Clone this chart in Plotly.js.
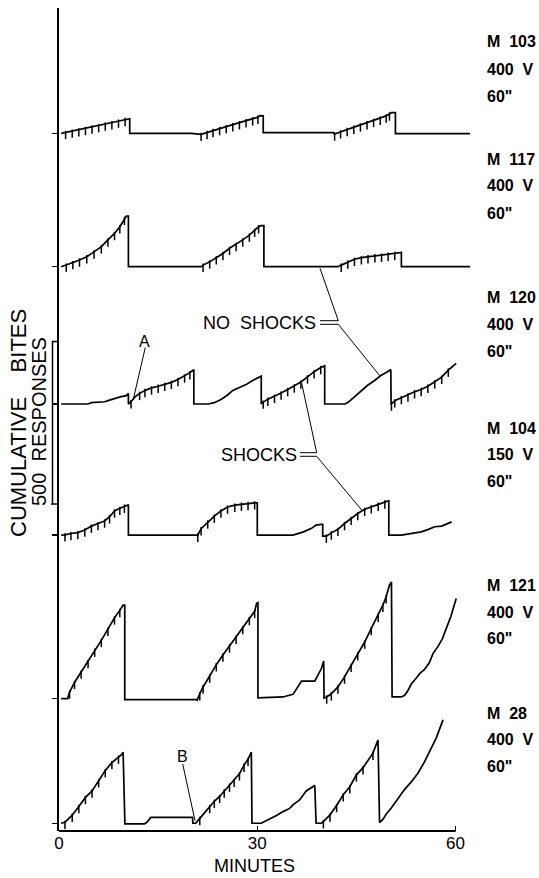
<!DOCTYPE html>
<html><head><meta charset="utf-8">
<script src="https://cdn.plot.ly/plotly-3.0.1.min.js"></script>
<style>html,body{margin:0;padding:0;background:#fff}</style>
</head><body><div id="chart" style="width:539px;height:878px"></div>
<script>
// ---------- DATA (minutes, cumulative responses above each record's baseline) ----------
const m103T = [0.33,1,2,3,4,5,6,7,8,9,10,10.2,10.7,10.7,20.0,21.5,22.4,23.3,24.3,25.3,26.3,27.3,28.3,29.3,30.1,30.4,30.9,30.9,41.5,41.7,42.6,43.6,44.6,45.6,46.6,47.6,48.6,49.5,50.0,50.3,50.9,50.9,62.2];
const m103R = [0,3,7,11,15,20,24,29,33,38,43,45,45,0,0,-3,3,9,15,21,27,33,39,45,50,55,54,2,2,-2,5,12,19,26,33,40,47,54,60,64,64,-1,-1];
const m103Pips = [1,2,3,4,5,6,7,8,9,10,21.5,22.4,23.3,24.3,25.3,26.3,27.3,28.3,29.3,30.1,41.7,42.6,43.6,44.6,45.6,46.6,47.6,48.6,49.5,50.0];

const m117T = [0.33,1.1,2.1,3.1,4.2,5.3,6.4,7.4,8.4,9.2,9.9,10.2,10.5,10.5,21.5,21.8,22.8,23.8,24.8,25.8,26.8,27.8,28.8,29.6,30.2,30.6,31.0,31.0,42.2,42.7,43.7,44.7,45.75,46.75,47.8,48.8,49.8,50.8,51.3,51.8,51.8,62.2];
const m117R = [0,5,13,21,31,46,62,83,103,124,150,157,157,0,0,5,15,28,41,57,69,83,98,113,124,127,127,0,0,5,15,23,28,31,34,36,39,41,43,44,0,0];
const m117Pips = [1.1,2.1,3.1,4.2,5.3,6.4,7.4,8.4,9.2,9.9,21.8,22.8,23.8,24.8,25.8,26.8,27.8,28.8,29.6,30.2,42.7,43.7,44.7,45.75,46.75,47.8,48.8,49.8,50.8];

const m120T = [0.33,4.4,4.9,5.9,6.9,7.65,8.4,9.4,10.2,10.45,10.5,10.5,10.9,11.5,12.2,13,14,15,16,17,18,19,19.8,20.3,20.4,20.4,22.6,23.5,24.5,25.5,26.3,27.3,28.3,29.3,30.3,30.6,30.6,30.9,31.6,32.6,33.6,34.6,35.6,36.6,37.6,38.6,39.6,40.1,40.2,40.2,43.3,43.8,44.7,45.7,46.7,47.7,48.7,49.7,50.2,50.25,50.3,50.8,51.8,52.8,53.8,54.8,55.8,56.85,57.9,58.9,60.1];
const m120R = [0,0,4,6,7,12,17,23,26,33,33,0,7,22,33,42,50,55,61,67,76,87,97,105,105,0,0,4,14,28,42,51,60,73,82,86,0,6,15,24,34,45,56,68,84,100,113,118,118,0,0,6,22,40,58,72,88,100,107,0,0,10,20,28,38,45,55,69,83,105,126];
const m120Pips = [10.9,12.2,13,14,15,16,17,18,19,19.8,30.9,31.6,32.6,33.6,34.6,35.6,36.6,37.6,38.6,39.6,50.3,50.8,51.8,52.8,53.8,54.8,55.8,56.85,57.9,58.9];

const m104T = [0.33,0.9,1.8,2.85,3.9,4.9,5.9,6.9,7.65,8.4,9.2,9.9,10.4,10.5,10.5,20.3,20.9,21.0,21.5,22.5,23.5,24.5,25.5,26.6,27.6,28.6,29.6,30.0,30.0,35.4,36.4,37.0,38.2,38.9,39.7,39.9,39.9,40.45,41.2,42.2,43.2,44.2,45.2,46.25,47.25,48.3,49.3,49.8,49.9,49.9,51.8,52.8,53.8,54.8,55.8,56.85,57.9,58.9,59.4];
const m104R = [0,1,5,8,16,28,36,44,57,75,83,90,93,93,0,0,-2,0,20,41,59,75,87,93,96,98,100,100,0,0,5,10,21,31,33,33,-3,-3,7,18,36,52,67,80,88,96,103,106,106,0,0,3,7,10,17,26,28,36,41];
const m104Pips = [0.9,1.8,2.85,3.9,4.9,5.9,6.9,7.65,8.4,9.2,9.9,21.0,21.5,22.5,23.5,24.5,25.5,26.6,27.6,28.6,29.6,40.45,41.2,42.2,43.2,44.2,45.2,46.25,47.25,48.3,49.3];

const m121T = [0.33,1.3,1.6,2.35,3.35,4.4,5.4,6.4,7.4,8.4,9.2,9.7,9.95,9.95,20.8,20.9,21.3,21.8,22.8,23.8,24.8,25.8,26.8,27.8,28.8,29.6,29.9,30.1,30.1,33.0,33.9,35.4,36.2,36.7,38.7,39.2,39.7,40.05,40.1,40.5,41.2,42.2,43.2,44.2,45.2,46.25,47.25,48.3,49.0,49.5,50.0,50.3,50.4,51.8,52.3,52.8,53.3,54.0,54.6,55.3,56.0,56.6,57.3,58.0,58.6,59.3,60.1];
const m121R = [0,0,20,50,82,115,150,180,215,250,273,289,289,-3,-3,-5,15,36,70,105,135,163,190,220,248,270,295,297,2,3,5,13,36,54,54,72,93,116,2,5,15,36,67,103,139,175,217,258,289,315,351,361,5,5,10,25,45,62,78,90,110,140,160,185,215,255,310];
const m121Pips = [1.6,2.35,3.35,4.4,5.4,6.4,7.4,8.4,9.2,21.3,21.8,22.8,23.8,24.8,25.8,26.8,27.8,28.8,29.6,40.5,41.2,42.2,43.2,44.2,45.2,46.25,47.25,48.3,49.0,49.5];

const m28T = [0.3,0.9,1.5,2,3,4,5,6,7,8,9,9.5,9.7,9.97,12.9,13.3,13.9,20.2,20.25,20.7,21.3,22,22.8,23.5,24.3,25,25.8,26.5,27.3,28,28.6,29.1,29.2,30.6,30.9,31.9,32.9,33.9,34.9,35.4,36.4,37.4,38.0,38.7,38.9,39.7,40,41,42,43,44,45,46,46.5,47.5,48.27,48.5,49,49.5,50.3,51.3,52.3,53.3,54.3,55.3,56.3,57.1,58.1];
const m28R = [0,3,15,25,52,80,100,132,163,188,205,213,220,-2,-2,3,18,18,0,0,15,33,52,68,83,100,118,133,153,180,198,220,0,0,3,15,24,36,46,57,72,100,108,117,0,0,5,26,55,88,113,150,172,186,217,258,2,12,28,48,75,105,128,155,190,232,265,320];
const m28Pips = [0.9,2,3,4,5,6,7,8,9,21.3,22.8,23.5,24.3,25,25.8,26.5,27.3,28,28.6,40,41,42,43,44,45,46,47.5];

const recordNames = ['M 103','M 117','M 120','M 104','M 121','M 28'];
const recordVolts = ['400 V','400 V','400 V','150 V','400 V','400 V'];
const recordInterval = ['60"','60"','60"','60"','60"','60"'];
const xTickVals = [0, 30, 60];
const xTickText = ['0', '30', '60'];

// ---------- LAYOUT GEOMETRY ----------
const W = 539, H = 878, L = 59, R = 57, T = 8, B = 47;
const plotW = W - L - R, plotH = H - T - B;
const RESP_PER_PX = 500 / 161.5;
const yMax = plotH * RESP_PER_PX;
const baselines = [2160, 1747, 1322, 916, 410, 24]; // vertical offset of each record (response units)
const PIP_DROP = 8;
const fx = px => (px - L) / plotW;
const fy = py => (H - B - py) / plotH;

const recs = [
  [m103T, m103R, m103Pips], [m117T, m117R, m117Pips], [m120T, m120R, m120Pips],
  [m104T, m104R, m104Pips], [m121T, m121R, m121Pips], [m28T, m28R, m28Pips]
];

const traces = [];
recs.forEach((rec, k) => {
  const [t, r, pips] = rec;
  const base = baselines[k];
  traces.push({x: t, y: r.map(v => v + base), mode: 'lines', type: 'scatter',
    line: {color: '#000', width: 1.7}, hoverinfo: 'skip', showlegend: false});
  const px = [], py = [];
  pips.forEach(p => { const i = t.indexOf(p); if (i >= 0) { px.push(p); py.push(r[i] + base - PIP_DROP); } });
  traces.push({x: px, y: py, mode: 'markers', type: 'scatter', hoverinfo: 'skip', showlegend: false,
    marker: {symbol: 'line-ns-open', size: 6, color: '#000', line: {color: '#000', width: 1.5}}});
});

const FONT = 'Liberation Sans, Arial, sans-serif';
const ann = [];
// right-hand labels
const labelY = [[42,69,96],[159,186,213],[297,324,351],[428,454,481],[585,612,638],[713,739,766]];
recs.forEach((rec, k) => {
  const txt = [recordNames[k].replace(' ', '\u00a0\u00a0'), recordVolts[k].replace(' ', '\u00a0\u00a0'), recordInterval[k]];
  txt.forEach((s, j) => ann.push({xref:'paper', yref:'paper', x: fx(485), y: fy(labelY[k][j]), xanchor:'left', yanchor:'middle',
    text: s, showarrow:false, font:{family: FONT, size: 16, color:'#000', weight: 'bold'}}));
});
ann.push({xref:'paper', yref:'paper', x: fx(18), y: fy(423), xanchor:'center', yanchor:'middle', textangle:-90,
  text:'CUMULATIVE\u00a0\u00a0\u00a0\u00a0BITES', showarrow:false, font:{family:FONT, size:22, color:'#000'}});
ann.push({xref:'paper', yref:'paper', x: fx(39), y: fy(422), xanchor:'center', yanchor:'middle', textangle:-90,
  text:'500\u00a0\u00a0RESPONSES', showarrow:false, font:{family:FONT, size:20, color:'#000'}});
ann.push({xref:'paper', yref:'paper', x: fx(254), y: fy(866), xanchor:'center', yanchor:'middle',
  text:'MINUTES', showarrow:false, font:{family:FONT, size:18, color:'#000'}});
ann.push({xref:'paper', yref:'paper', x: fx(259), y: fy(323), xanchor:'center', yanchor:'middle',
  text:'NO\u00a0\u00a0SHOCKS', showarrow:false, font:{family:FONT, size:18, color:'#000'}});
ann.push({xref:'paper', yref:'paper', x: fx(259), y: fy(455), xanchor:'center', yanchor:'middle',
  text:'SHOCKS', showarrow:false, font:{family:FONT, size:18, color:'#000'}});
ann.push({xref:'paper', yref:'paper', x: fx(144), y: fy(341), xanchor:'center', yanchor:'middle',
  text:'A', showarrow:false, font:{family:FONT, size:16, color:'#000'}});
ann.push({xref:'paper', yref:'paper', x: fx(182.5), y: fy(756), xanchor:'center', yanchor:'middle',
  text:'B', showarrow:false, font:{family:FONT, size:16, color:'#000'}});

const seg = (x0, y0, x1, y1, w) => ({type:'line', xref:'paper', yref:'paper', x0: fx(x0), y0: fy(y0), x1: fx(x1), y1: fy(y1),
  line:{color:'#000', width: w || 1}});
const shapes = [
  // x axis line 0..60
  {type:'line', xref:'paper', yref:'paper', x0: 0, x1: 60/64, y0: 0, y1: 0, line:{color:'#000', width:2}},
  // 500 responses scale bar
  seg(52.5, 341.5, 52.5, 504, 1.5), seg(52, 341.5, 58, 341.5, 1.5), seg(51, 504, 57, 504, 1.5),
  // A and B pointers
  seg(145.3, 347.5, 133.3, 399.3), seg(182.7, 764, 195, 820.7),
  // NO SHOCKS connector
  seg(320, 320.7, 338.3, 320.7), seg(320, 324.3, 338.3, 324.3),
  seg(338.3, 320.7, 320, 268.3), seg(338.3, 324.3, 380, 376),
  // SHOCKS connector
  seg(300, 452.7, 316.7, 452.7), seg(300, 456.3, 316.7, 456.3),
  seg(316.7, 452.7, 301.7, 383.3), seg(316.7, 456.3, 361.7, 510)
];

const layout = {
  width: W, height: H, margin: {l: L, r: R, t: T, b: B},
  paper_bgcolor: '#fff', plot_bgcolor: '#fff', showlegend: false,
  xaxis: {range: [0, 64], tickvals: xTickVals, ticktext: xTickText, ticks: 'inside', ticklen: 5, tickwidth: 1.5,
    tickcolor: '#000', showline: false, showgrid: false, zeroline: false,
    tickfont: {family: FONT, size: 17, color: '#000'}, fixedrange: true},
  yaxis: {range: [0, yMax], tickvals: baselines, ticks: 'outside', ticklen: 5, tickwidth: 1.5, tickcolor: '#000',
    showticklabels: false, showline: true, linewidth: 2, linecolor: '#000', showgrid: false, zeroline: false, fixedrange: true},
  annotations: ann, shapes: shapes
};
Plotly.newPlot('chart', traces, layout, {staticPlot: true, displayModeBar: false});
</script></body></html>
